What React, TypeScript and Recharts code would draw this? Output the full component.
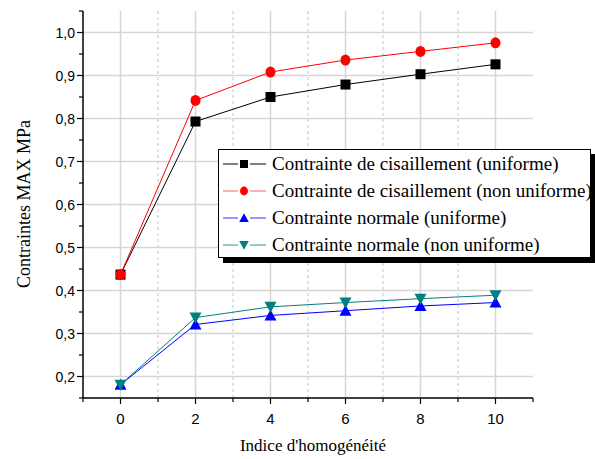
import { LineChart, Line, XAxis, YAxis, ReferenceLine } from "recharts";

const indices = [0, 2, 4, 6, 8, 10];
const cisUniforme = [0.437, 0.793, 0.85, 0.879, 0.903, 0.926];
const cisNonUniforme = [0.437, 0.842, 0.908, 0.936, 0.956, 0.976];
const normUniforme = [0.181, 0.321, 0.342, 0.353, 0.364, 0.372];
const normNonUniforme = [0.181, 0.337, 0.362, 0.372, 0.381, 0.389];

const xTicks = [-1, 0, 1, 2, 3, 4, 5, 6, 7, 8, 9, 10, 11];
const xMajor = [0, 2, 4, 6, 8, 10];
const xMinor = [1, 3, 5, 7, 9];
const yTicks = [0.15, 0.2, 0.25, 0.3, 0.35, 0.4, 0.45, 0.5, 0.55, 0.6, 0.65, 0.7, 0.75, 0.8, 0.85, 0.9, 0.95, 1.0, 1.05];
const yMajor = [0.2, 0.3, 0.4, 0.5, 0.6, 0.7, 0.8, 0.9, 1.0];

const data = indices.map((x, i) => ({
  x,
  cu: cisUniforme[i],
  cn: cisNonUniforme[i],
  nu: normUniforme[i],
  nn: normNonUniforme[i],
}));

const series = [
  { key: "cu", name: "Contrainte de cisaillement (uniforme)", color: "#000000", legendColor: "#000000", shape: "square" },
  { key: "cn", name: "Contrainte de cisaillement (non uniforme)", color: "#ff0000", legendColor: "#ff6060", shape: "circle" },
  { key: "nu", name: "Contrainte normale (uniforme)", color: "#0000ff", legendColor: "#3030ff", shape: "up" },
  { key: "nn", name: "Contrainte normale (non uniforme)", color: "#008080", legendColor: "#309090", shape: "down" },
];

const SERIF = "Liberation Serif";
const SANS = "Liberation Sans";

const Marker = ({ cx, cy, shape, color, s = 1 }: any) => {
  if (cx == null || cy == null) return null;
  if (shape === "square") return <rect x={cx - 5 * s} y={cy - 5 * s} width={10 * s} height={10 * s} fill={color} />;
  if (shape === "circle") return <ellipse cx={cx} cy={cy} rx={5 * s} ry={5.5 * s} fill={color} />;
  if (shape === "up")
    return <path d={`M${cx},${cy - 6 * s} L${cx + 6 * s},${cy + 5 * s} L${cx - 6 * s},${cy + 5 * s} Z`} fill={color} />;
  return <path d={`M${cx},${cy + 6 * s} L${cx + 6 * s},${cy - 5 * s} L${cx - 6 * s},${cy - 5 * s} Z`} fill={color} />;
};

const XTick = ({ x, payload }: any) => {
  const v = payload.value;
  const major = xMajor.includes(v);
  return (
    <g>
      <line x1={x} x2={x} y1={398} y2={major ? 404 : 402} stroke="#000" strokeWidth={1.2} />
      {major && (
        <text x={x} y={424} textAnchor="middle" fontFamily={SANS} fontSize={15} fill="#000">
          {v}
        </text>
      )}
    </g>
  );
};

const YTick = ({ y, payload }: any) => {
  const v = payload.value;
  const major = yMajor.some((m) => Math.abs(m - v) < 1e-6);
  return (
    <g>
      <line x1={major ? 77 : 79} x2={83} y1={y} y2={y} stroke="#000" strokeWidth={1.2} />
      {major && (
        <text x={75} y={y + 5} textAnchor="end" fontFamily={SANS} fontSize={14} fill="#000">
          {v.toFixed(1).replace(".", ",")}
        </text>
      )}
    </g>
  );
};

const LegendBox = () => (
  <div
    style={{
      position: "absolute",
      left: 218,
      top: 149,
      width: 373,
      height: 109,
      border: "1px solid #000",
      background: "#fff",
      boxShadow: "5px 5px 0 #000",
      boxSizing: "border-box",
      fontFamily: SERIF,
      fontSize: 19,
      lineHeight: "22px",
      color: "#000",
    }}
  >
    {series.map((s) => (
      <div key={s.key} style={{ display: "flex", alignItems: "center", height: 27 }}>
        <svg width={50} height={20} style={{ marginLeft: 2, flex: "none" }}>
          <line x1={2} x2={45} y1={10} y2={10} stroke={s.legendColor} strokeWidth={1} />
          <rect x={17} y={3} width={12} height={14} fill="#fff" />
          <Marker cx={23} cy={10} shape={s.shape} color={s.color} s={0.8} />
        </svg>
        <span style={{ marginLeft: 1, whiteSpace: "nowrap" }}>{s.name}</span>
      </div>
    ))}
  </div>
);

const YLabel = () => (
  <text
    x={24}
    y={204}
    transform="rotate(-90 24 204)"
    textAnchor="middle"
    dominantBaseline="central"
    fontFamily={SERIF}
    fontSize={18}
    fill="#000"
  >
    Contraintes MAX MPa
  </text>
);

const XLabel = () => (
  <text x={313} y={451} textAnchor="middle" fontFamily={SERIF} fontSize={17} fill="#000">
    Indice d'homogénéité
  </text>
);

export default function App() {
  return (
    <div style={{ position: "absolute", left: 0, top: 0, width: 595, height: 459, background: "#fff" }}>
      <LineChart width={595} height={459} data={data} margin={{ top: 11, right: 62, left: 0, bottom: 0 }}>
        {xMajor.map((v) => (
          <ReferenceLine key={`vx${v}`} x={v} stroke="#d6d6d6" strokeWidth={1.5} />
        ))}
        {xMinor.map((v) => (
          <ReferenceLine key={`vm${v}`} x={v} stroke="#c4c4c4" strokeWidth={1} strokeDasharray="3 3" />
        ))}
        {yMajor.map((v) => (
          <ReferenceLine key={`hy${v}`} y={v} stroke="#d6d6d6" strokeWidth={1.5} />
        ))}
        <XAxis
          dataKey="x"
          type="number"
          domain={[-1, 11]}
          ticks={xTicks}
          interval={0}
          height={61}
          tickLine={false}
          tick={<XTick />}
          stroke="#000"
          strokeWidth={1.5}
          label={<XLabel />}
        />
        <YAxis
          type="number"
          domain={[0.15, 1.05]}
          ticks={yTicks}
          interval={0}
          width={83}
          tickLine={false}
          tick={<YTick />}
          stroke="#000"
          strokeWidth={1.5}
          label={<YLabel />}
        />
        {series.map((s) => (
          <Line
            key={s.key}
            type="linear"
            dataKey={s.key}
            name={s.name}
            stroke={s.color}
            strokeWidth={1}
            dot={(p: any) => <Marker key={`${s.key}${p.index}`} cx={p.cx} cy={p.cy} shape={s.shape} color={s.color} />}
            activeDot={false}
            isAnimationActive={false}
          />
        ))}
      </LineChart>
      <LegendBox />
    </div>
  );
}
